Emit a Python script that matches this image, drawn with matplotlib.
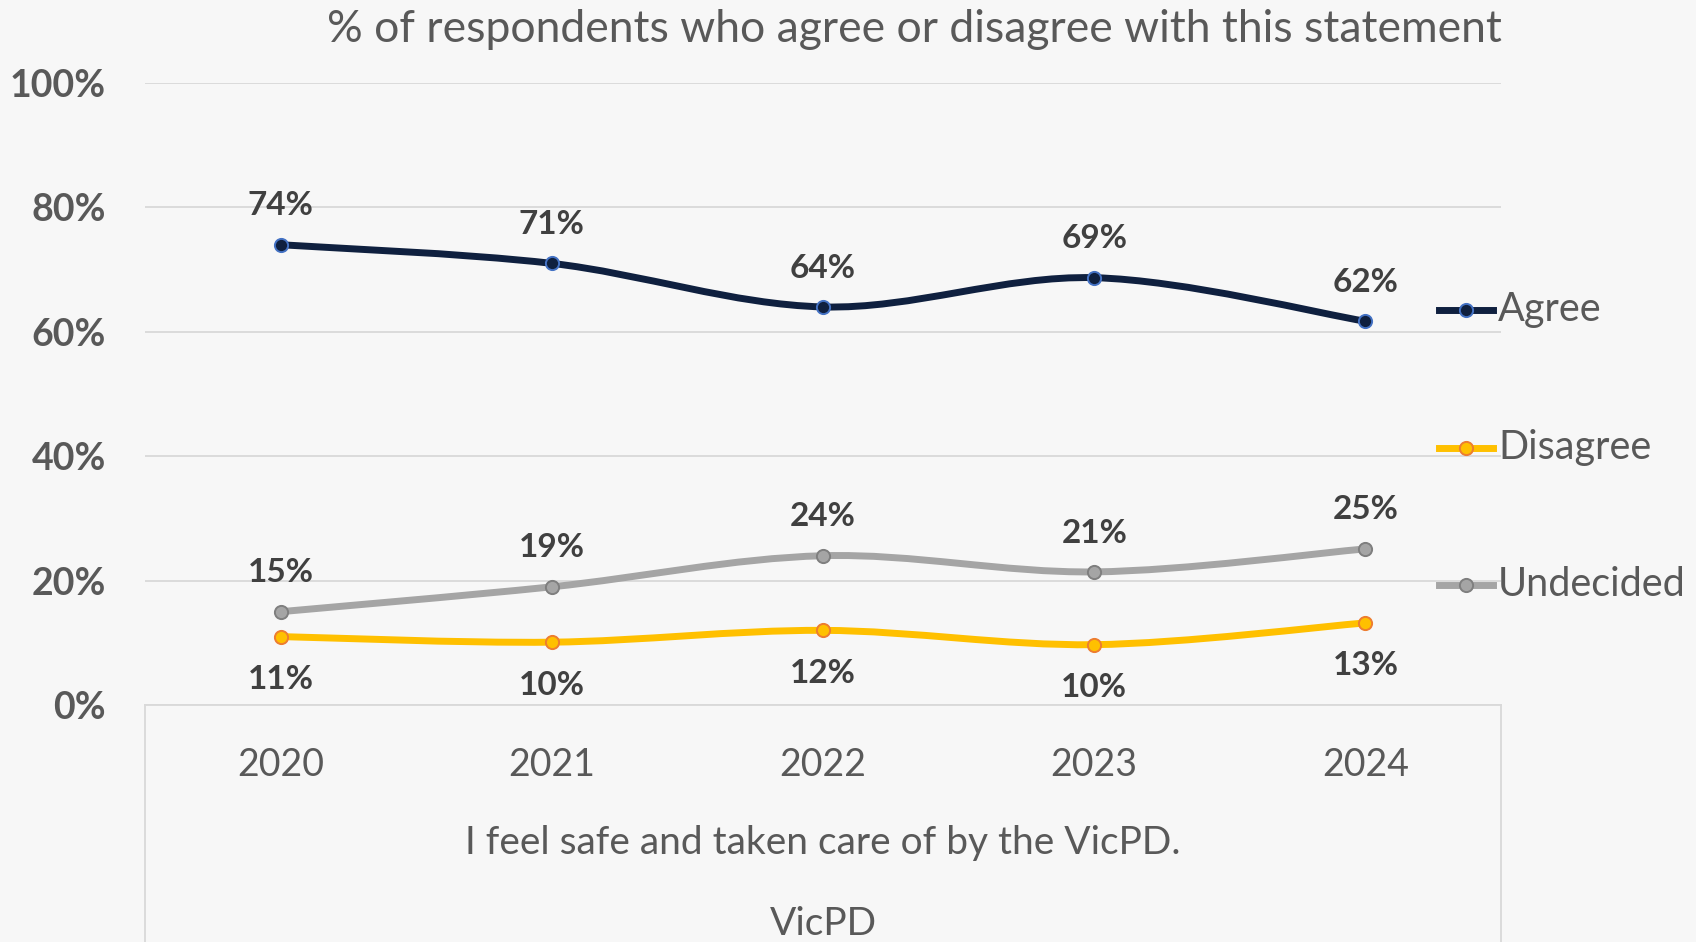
import matplotlib
matplotlib.use("Agg")
import matplotlib.pyplot as plt
from matplotlib.path import Path
from matplotlib.patches import PathPatch
from matplotlib.lines import Line2D

plt.rcParams['font.family'] = ['Lato', 'DejaVu Sans']

years = ["2020", "2021", "2022", "2023", "2024"]
agree = [74, 71, 64, 68.7, 61.7]
disagree = [11, 10.1, 12, 9.7, 13.2]
undecided = [15, 19, 24, 21.4, 25.1]
series_names = ["Agree", "Disagree", "Undecided"]
title = "% of respondents who agree or disagree with this statement"
category_label = "I feel safe and taken care of by the VicPD."
group_label = "VicPD"
yticks = [0, 20, 40, 60, 80, 100]

BG = "#F7F7F7"
GRID = "#D9D9D9"
TXT = "#595959"
LBL = "#404040"

styles = {
    "Agree": dict(color="#0F203F", mfc="#0F203F", mec="#4472C4", pos="above"),
    "Disagree": dict(color="#FFC000", mfc="#FFC000", mec="#ED7D31", pos="below"),
    "Undecided": dict(color="#A5A5A5", mfc="#A5A5A5", mec="#7F7F7F", pos="above"),
}
LW = 5.0
MS = 9.5

W, H = 1696, 942
fig = plt.figure(figsize=(W / 100, H / 100), dpi=100, facecolor=BG)
left, right, top, bottom = 145, 1501, 83, 705
ax = fig.add_axes([left / W, 1 - bottom / H, (right - left) / W, (bottom - top) / H])
ax.set_facecolor(BG)
ax.set_xlim(-0.5, len(years) - 0.5)
ax.set_ylim(0, 100)
for s in ax.spines.values():
    s.set_visible(False)
ax.set_yticks(yticks)
ax.set_yticklabels([f"{v}%" for v in yticks], fontsize=27, fontweight="bold", color=TXT)
ax.set_xticks(range(len(years)))
ax.set_xticklabels(years, fontsize=27, color=TXT)
ax.tick_params(axis="both", length=0)
ax.tick_params(axis="y", pad=28)
ax.tick_params(axis="x", pad=30)
ax.yaxis.grid(True, color=GRID, lw=1.3)
ax.set_axisbelow(True)

# category axis box lines
for xa in (0, 1):
    ax.plot([xa, xa], [0, -0.5], transform=ax.transAxes, color=GRID, lw=1.3, clip_on=False)
ax.plot([0, 1], [0, 0], transform=ax.transAxes, color=GRID, lw=1.3, clip_on=False)


def smooth_path(xs, ys):
    pts = list(zip(xs, ys))
    n = len(pts)
    verts = [pts[0]]
    codes = [Path.MOVETO]
    for i in range(n - 1):
        p0 = pts[i - 1] if i > 0 else pts[i]
        p1 = pts[i]
        p2 = pts[i + 1]
        p3 = pts[i + 2] if i + 2 < n else pts[i + 1]
        c1 = (p1[0] + (p2[0] - p0[0]) / 6, p1[1] + (p2[1] - p0[1]) / 6)
        c2 = (p2[0] - (p3[0] - p1[0]) / 6, p2[1] - (p3[1] - p1[1]) / 6)
        verts += [c1, c2, p2]
        codes += [Path.CURVE4] * 3
    return Path(verts, codes)


data = {"Agree": agree, "Disagree": disagree, "Undecided": undecided}
xs = list(range(len(years)))
for name in series_names:
    st = styles[name]
    vals = data[name]
    ax.add_patch(PathPatch(smooth_path(xs, vals), fill=False, edgecolor=st["color"],
                           lw=LW, capstyle="round", joinstyle="round", zorder=3))
    ax.plot(xs, vals, ls="none", marker="o", ms=MS, mfc=st["mfc"], mec=st["mec"],
            mew=1.4, zorder=4)
    for x, v in zip(xs, vals):
        off = 28 if st["pos"] == "above" else -31
        ax.annotate(f"{round(v)}%", (x, v), xytext=(0, off), textcoords="offset points",
                    ha="center", va="center", fontsize=24, fontweight="bold", color=LBL)

# legend (manual)
leg_y = [310, 448, 585]
for name, yp in zip(series_names, leg_y):
    st = styles[name]
    yf = 1 - yp / H
    fig.add_artist(Line2D([1439 / W, 1493 / W], [yf, yf], color=st["color"], lw=LW,
                          transform=fig.transFigure))
    fig.add_artist(Line2D([1466 / W], [yf], ls="none", marker="o", ms=MS, mfc=st["mfc"],
                          mec=st["mec"], mew=1.4, transform=fig.transFigure))
    fig.text(1498 / W, yf, name, fontsize=28.5, color=TXT, ha="left", va="center")

fig.text(914 / W, 1 - 30 / H, title, fontsize=32, color=TXT, ha="center", va="center")
fig.text(823 / W, 1 - 843 / H, category_label, fontsize=28, color=TXT, ha="center", va="center")
fig.text(823 / W, 1 - 924 / H, group_label, fontsize=28, color=TXT, ha="center", va="center")

fig.savefig("out.png", dpi=100, facecolor=BG)
